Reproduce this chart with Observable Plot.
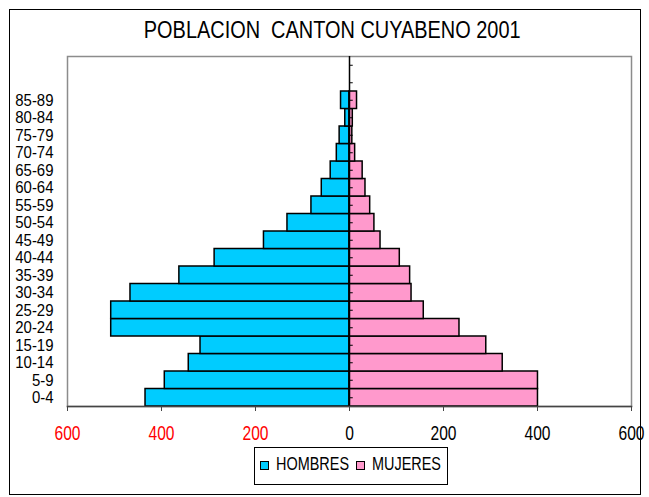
<!DOCTYPE html>
<html>
<head>
<meta charset="utf-8">
<script src="https://cdn.jsdelivr.net/npm/d3@7"></script>
<script src="https://cdn.jsdelivr.net/npm/@observablehq/plot@0.6"></script>
<style>
  html, body { margin: 0; padding: 0; background: #fff; }
  #wrap { position: relative; width: 649px; height: 497px; font-family: "Liberation Sans", Arial, sans-serif; }
  #wrap svg { position: absolute; left: 0; top: 0; }
  #border { position: absolute; left: 9px; top: 9px; width: 632px; height: 486px; border: 1.5px solid #000; box-sizing: border-box; }
  #title { position: absolute; left: 0; width: 664.4px; top: 18px; text-align: center; font-size: 24px; line-height: 24px; color: #000; white-space: pre; transform: scaleX(0.83); transform-origin: 332.2px 0; }
  #legend { position: absolute; left: 254px; top: 447px; width: 194px; height: 38px; border: 1px solid #000; box-sizing: border-box; }
  .sw { position: absolute; width: 9px; height: 9px; border: 1px solid #000; box-sizing: border-box; top: 460.5px; }
  .lab { position: absolute; top: 454.2px; font-size: 19px; line-height: 19px; white-space: nowrap; transform: scaleX(0.76); transform-origin: 0 0; color: #000; }
</style>
</head>
<body>
<div id="wrap">
  <div id="border"></div>
  <div id="title">POBLACION  CANTON CUYABENO 2001</div>
  <div id="legend"></div>
  <span class="sw" style="left:259.5px; background:#00CCFF"></span>
  <span class="lab" style="left:276px">HOMBRES</span>
  <span class="sw" style="left:355.5px; background:#FF99CC"></span>
  <span class="lab" style="left:371.5px">MUJERES</span>
</div>
<script>
const ages = ["0-4","5-9","10-14","15-19","20-24","25-29","30-34","35-39","40-44","45-49","50-54","55-59","60-64","65-69","70-74","75-79","80-84","85-89"];
const emptyCats = ["90-94","95+"];
const hombres = [434,393,342,317,507,507,466,362,287,182,132,81,59,40,27,21,9,18];
const mujeres = [401,401,326,291,234,158,132,129,107,66,53,44,34,28,12,6,7,16];
const xTicks = [-600,-400,-200,0,200,400,600];

const allCats = ages.concat(emptyCats);
const rowsH = ages.map((a,i) => ({age: a, v: hombres[i]}));
const rowsM = ages.map((a,i) => ({age: a, v: mujeres[i]}));

const chart = Plot.plot({
  width: 649,
  height: 497,
  marginLeft: 67,
  marginRight: 18,
  marginTop: 56,
  marginBottom: 91,
  style: {fontFamily: '"Liberation Sans", Arial, sans-serif', background: "transparent", overflow: "visible"},
  x: {domain: [-600, 600]},
  y: {domain: allCats.slice().reverse(), padding: 0, round: false},
  marks: [
    Plot.frame({stroke: "#8c8c8c", strokeWidth: 1.5}),
    Plot.barX(rowsH, {y: "age", x1: 0, x2: d => -d.v, fill: "#00CCFF", stroke: "#000", strokeWidth: 1.5}),
    Plot.barX(rowsM, {y: "age", x1: 0, x2: d => d.v, fill: "#FF99CC", stroke: "#000", strokeWidth: 1.5}),
    Plot.ruleX([0], {stroke: "#000", strokeWidth: 1.5}),
    Plot.ruleY(allCats, {y: d => d, x1: 0, x2: 8, stroke: "#000", strokeWidth: 1}),
    Plot.frame({anchor: "bottom", stroke: "#444", strokeWidth: 1.5}),
    Plot.axisX(xTicks.filter(d => d < 0), {tickSize: 5, tickPadding: 14, tickFormat: d => Math.abs(d), fill: "#FF0000", stroke: "#444", fontSize: 20, label: null}),
    Plot.axisX(xTicks.filter(d => d >= 0), {tickSize: 5, tickPadding: 14, tickFormat: d => Math.abs(d), fill: "#000", stroke: "#444", fontSize: 20, label: null}),
    Plot.axisY(ages, {tickSize: 0, tickPadding: 14, fontSize: 17, fill: "#000", label: null})
  ]
});

// condense axis text horizontally to mimic the narrow typeface of the original
chart.querySelectorAll("text").forEach(t => {
  const g = t.closest("g[aria-label]");
  const lab = g ? g.getAttribute("aria-label") : "";
  let s = null;
  if (lab.startsWith("x-axis")) s = 0.78;
  else if (lab.startsWith("y-axis")) s = 0.88;
  if (s == null) return;
  const tr = t.getAttribute("transform");
  if (tr) t.setAttribute("transform", `${tr} scale(${s},1)`);
});

document.getElementById("wrap").insertBefore(chart, document.getElementById("border"));
</script>
</body>
</html>
